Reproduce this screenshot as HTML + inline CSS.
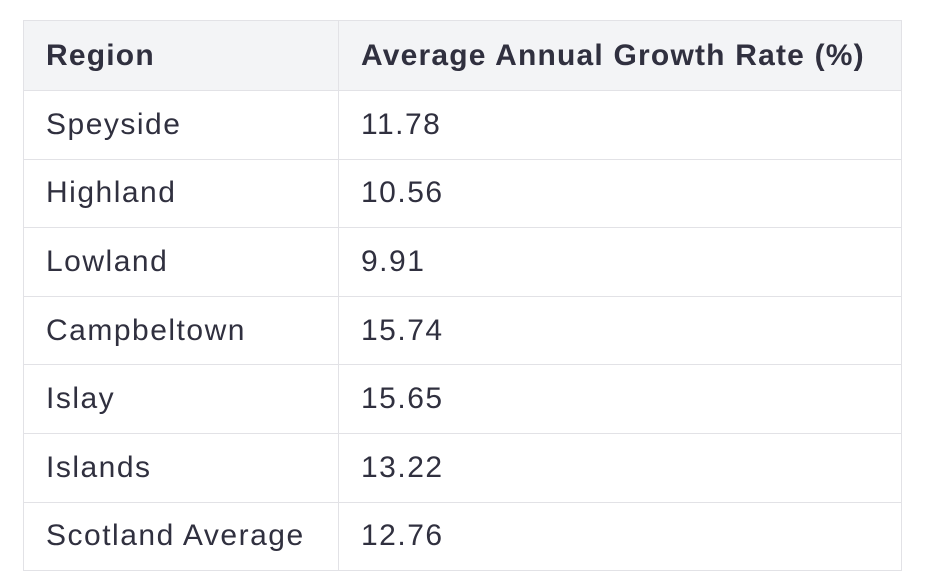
<!DOCTYPE html>
<html><head><meta charset="utf-8"><style>
html,body{margin:0;padding:0;background:#fff;width:930px;height:586px;overflow:hidden}
table{position:absolute;left:23px;top:20px;border-collapse:collapse;font-family:"Liberation Sans",sans-serif;color:#30303f;font-size:30px}
td,th{border:1px solid #e2e2e6;height:68.6px;padding:0 0 0 22px;text-align:left;box-sizing:border-box;white-space:nowrap}
td{letter-spacing:1.5px}
th{background:#f3f4f6;font-weight:bold;height:70px;letter-spacing:1.2px}
td.c1,th.c1{width:315px}
td.c2,th.c2{width:563px}
</style></head><body>
<table>
<thead><tr><th class="c1">Region</th><th class="c2">Average Annual Growth Rate (%)</th></tr></thead>
<tbody>
<tr><td class="c1">Speyside</td><td class="c2">11.78</td></tr>
<tr><td class="c1">Highland</td><td class="c2">10.56</td></tr>
<tr><td class="c1">Lowland</td><td class="c2">9.91</td></tr>
<tr><td class="c1">Campbeltown</td><td class="c2">15.74</td></tr>
<tr><td class="c1">Islay</td><td class="c2">15.65</td></tr>
<tr><td class="c1">Islands</td><td class="c2">13.22</td></tr>
<tr><td class="c1">Scotland Average</td><td class="c2">12.76</td></tr>
</tbody></table>
</body></html>
